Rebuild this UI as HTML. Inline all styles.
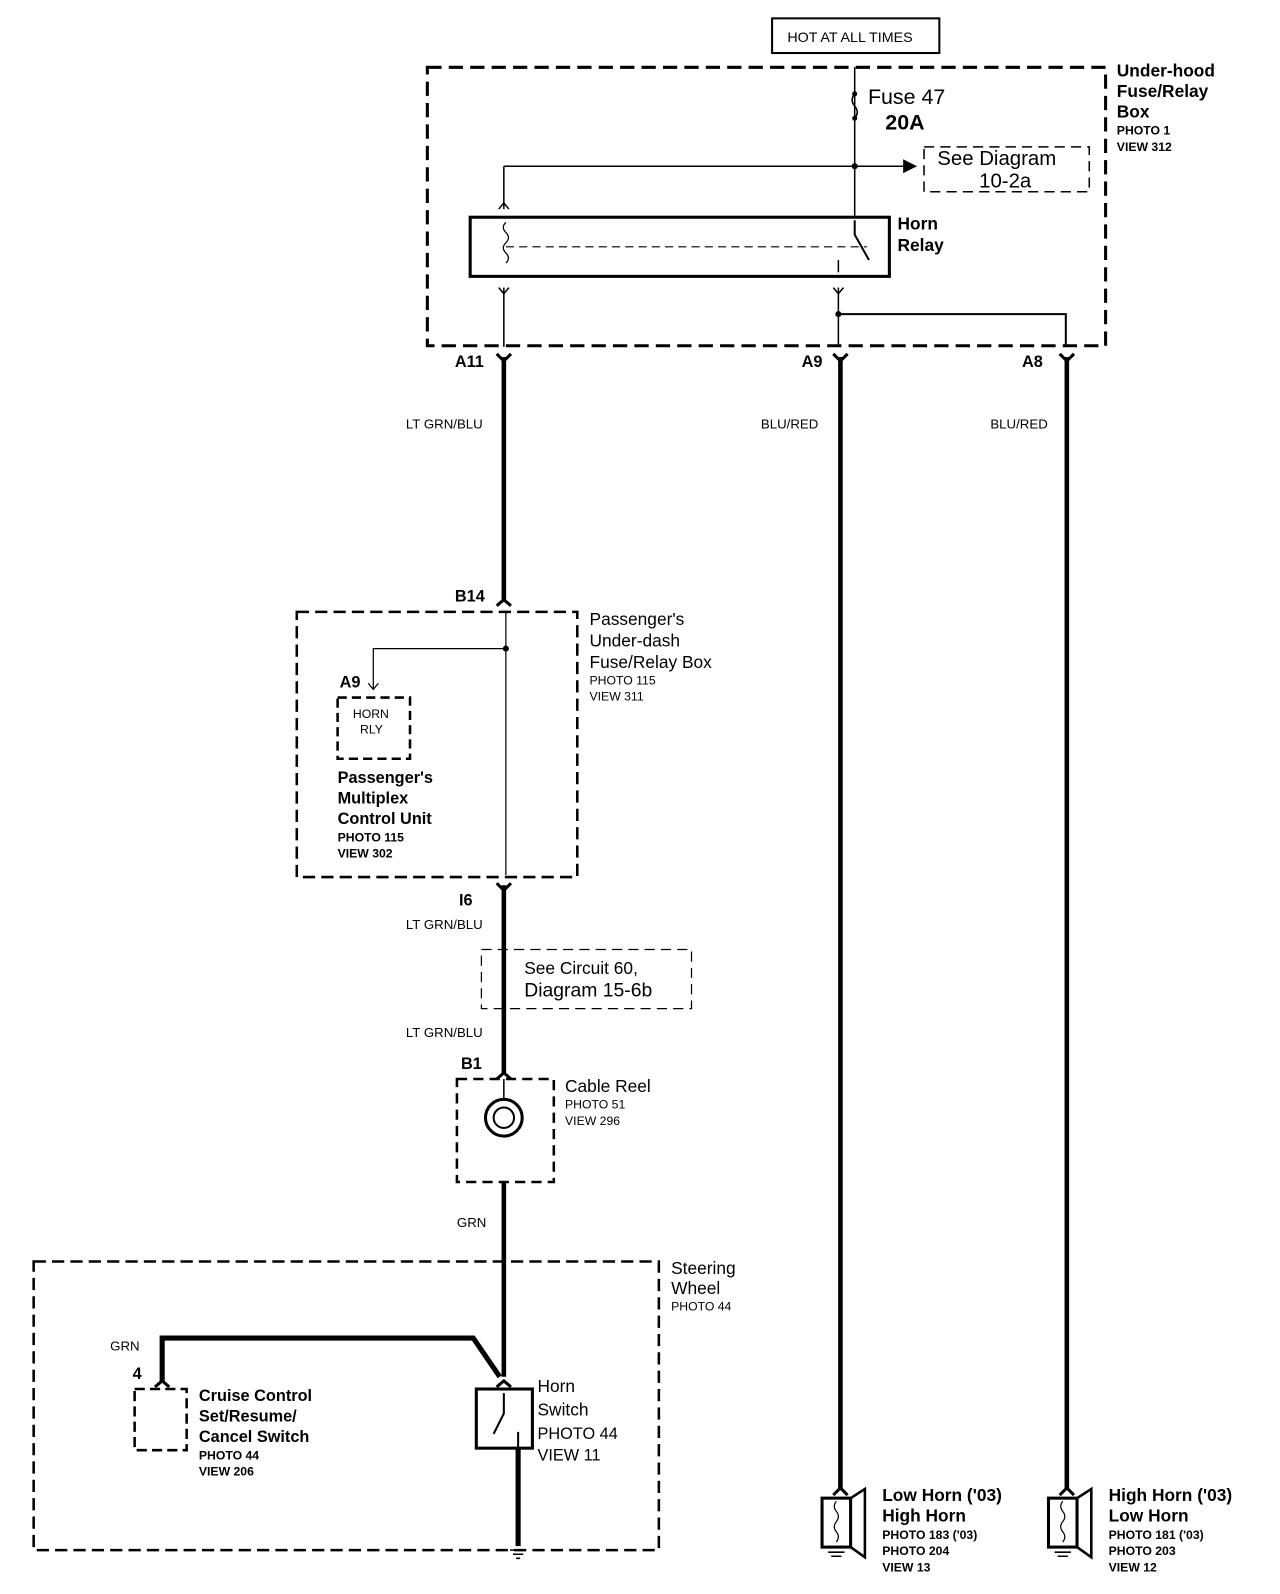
<!DOCTYPE html>
<html><head><meta charset="utf-8"><style>
html,body{margin:0;padding:0;background:#fff;}
svg{display:block;}
text{font-family:"Liberation Sans",Arial,sans-serif;fill:#000;}
.b{font-weight:bold;}
</style></head><body>
<svg width="1280" height="1594" viewBox="0 0 1255 1563" preserveAspectRatio="none" xmlns="http://www.w3.org/2000/svg">
<g fill="none" stroke="#000">
<rect x="757" y="18" width="164" height="34" stroke-width="2"/>
<rect x="419" y="66" width="665" height="273" stroke-width="3" stroke-dasharray="14,7"/>
<line x1="838" y1="66" x2="838" y2="212" stroke-width="1.5"/>
<path d="M838 92 q-5 6 0 12 q5 6 0 12" stroke-width="1.5"/>
<line x1="494" y1="163" x2="895" y2="163" stroke-width="1.5"/>
<line x1="494" y1="163" x2="494" y2="205" stroke-width="1.5"/>
<path d="M489 205 l5 -6 l5 6" stroke-width="1.5"/>
<polygon points="886,157 898,163 886,169" fill="#000"/>
<rect x="906" y="144" width="162" height="44" stroke-width="1.5" stroke-dasharray="10,6"/>
<rect x="461" y="213" width="411" height="58" stroke-width="3"/>
<path d="M496 218 q-5 5 0 10 q5 5 0 10 q-5 5 0 10 q5 5 0 10" stroke-width="1.2"/>
<line x1="496" y1="242" x2="850" y2="242" stroke-width="1.2" stroke-dasharray="8,5"/>
<path d="M838 216 v14 l14 25" stroke-width="2"/>
<path d="M822 255 v12" stroke-width="1.5"/>
<line x1="494" y1="282" x2="494" y2="340" stroke-width="1.5"/>
<path d="M489 282 l5 6 l5 -6" stroke-width="1.5"/>
<line x1="822" y1="282" x2="822" y2="340" stroke-width="1.5"/>
<path d="M817 282 l5 6 l5 -6" stroke-width="1.5"/>
<polyline points="822,308 1045,308 1045,340" stroke-width="2"/>
<line x1="494" y1="350" x2="494" y2="590" stroke-width="4.5"/>
<line x1="824" y1="350" x2="824" y2="1460" stroke-width="4.5"/>
<line x1="1046" y1="350" x2="1046" y2="1460" stroke-width="4.5"/>
<path d="M487 347 l7 7 l7 -7 M817 347 l7 7 l7 -7 M1039 347 l7 7 l7 -7" stroke-width="3"/>
<rect x="291" y="600" width="275" height="260" stroke-width="2.5" stroke-dasharray="12,6"/>
<path d="M487 594 l7 -6 l7 6" stroke-width="3"/>
<line x1="496" y1="600" x2="496" y2="858" stroke-width="1.2"/>
<polyline points="496,636 366,636 366,676" stroke-width="1.2"/>
<path d="M361 670 l5 6 l5 -6" stroke-width="1.2"/>
<rect x="331" y="684" width="71" height="60" stroke-width="2.5" stroke-dasharray="9,5"/>
<line x1="494" y1="868" x2="494" y2="1053" stroke-width="4.5"/>
<path d="M487 866 l7 7 l7 -7" stroke-width="3"/>
<rect x="472" y="931" width="206" height="58" stroke-width="1.2" stroke-dasharray="10,6"/>
<path d="M487 1058 l7 -6 l7 6" stroke-width="3"/>
<rect x="448" y="1058" width="95" height="101" stroke-width="2.5" stroke-dasharray="10,6"/>
<circle cx="494" cy="1096" r="18" stroke-width="3"/>
<circle cx="494" cy="1096" r="10" stroke-width="2"/>
<line x1="494" y1="1058" x2="494" y2="1078" stroke-width="1.5"/>
<line x1="494" y1="1159" x2="494" y2="1350" stroke-width="4.5"/>
<rect x="33" y="1237" width="613" height="283" stroke-width="2.5" stroke-dasharray="12,6"/>
<polyline points="159,1355 159,1312 464,1312 490,1350" stroke-width="5"/>
<path d="M152 1360 l7 -6 l7 6 M487 1360 l7 -6 l7 6" stroke-width="3"/>
<rect x="132" y="1362" width="51" height="60" stroke-width="2.5" stroke-dasharray="10,5"/>
<rect x="467" y="1362" width="55" height="58" stroke-width="3"/>
<path d="M494 1366 v20 l-10 20 M508 1420 v-16" stroke-width="2"/>
<line x1="508" y1="1420" x2="508" y2="1516" stroke-width="5"/>
<path d="M500 1520 h16 M503 1524 h10 M506 1528 h4" stroke-width="1.5"/>
<path d="M817 1466 l7 -7 l7 7 M1039 1466 l7 -7 l7 7" stroke-width="3"/>
<rect x="806" y="1469" width="28" height="48" stroke-width="3"/>
<polygon points="834,1469 848,1460 848,1527 834,1517" stroke-width="2.5"/>
<path d="M820 1472 q-4 5 0 10 q4 5 0 10 q-4 5 0 10 q4 5 0 10" stroke-width="1.2"/>
<path d="M812 1522 h16 M815 1526 h10" stroke-width="1.5"/>
<rect x="1028" y="1469" width="28" height="48" stroke-width="3"/>
<polygon points="1056,1469 1070,1460 1070,1527 1056,1517" stroke-width="2.5"/>
<path d="M1042 1472 q-4 5 0 10 q4 5 0 10 q-4 5 0 10 q4 5 0 10" stroke-width="1.2"/>
<path d="M1034 1522 h16 M1037 1526 h10" stroke-width="1.5"/>
</g>
<g fill="#000">
<circle cx="838" cy="92" r="2.5"/><circle cx="838" cy="116" r="2.5"/><circle cx="838" cy="163" r="3"/>
<circle cx="822" cy="308" r="3"/><circle cx="496" cy="636" r="3"/>
</g>
<text x="772" y="41" font-size="14">HOT AT ALL TIMES</text>
<text x="851" y="102" font-size="21">Fuse 47</text>
<text x="868" y="127" font-size="21" class="b">20A</text>
<text x="919" y="162" font-size="20">See Diagram</text>
<text x="960" y="184" font-size="20">10-2a</text>
<text x="880" y="225" font-size="17" class="b">Horn</text>
<text x="880" y="246" font-size="17" class="b">Relay</text>
<g font-size="17"><text x="1095" y="75" class="b">Under-hood</text><text x="1095" y="95" class="b">Fuse/Relay</text><text x="1095" y="115" class="b">Box</text></g>
<text x="1095" y="132" font-size="12" class="b">PHOTO 1</text><text x="1095" y="148" font-size="12" class="b">VIEW 312</text>
<text x="446" y="360" font-size="16" class="b">A11</text>
<text x="786" y="360" font-size="16" class="b">A9</text>
<text x="1002" y="360" font-size="16" class="b">A8</text>
<text x="398" y="420" font-size="13">LT GRN/BLU</text>
<text x="746" y="420" font-size="13">BLU/RED</text>
<text x="971" y="420" font-size="13">BLU/RED</text>
<text x="446" y="590" font-size="16" class="b">B14</text>
<text x="578" y="613" font-size="17">Passenger's</text><text x="578" y="634" font-size="17">Under-dash</text><text x="578" y="655" font-size="17">Fuse/Relay Box</text>
<text x="578" y="671" font-size="12">PHOTO 115</text><text x="578" y="687" font-size="12">VIEW 311</text>
<text x="333" y="674" font-size="16" class="b">A9</text>
<text x="346" y="704" font-size="12">HORN</text><text x="353" y="719" font-size="12">RLY</text>
<text x="331" y="768" font-size="16" class="b">Passenger's</text><text x="331" y="788" font-size="16" class="b">Multiplex</text><text x="331" y="808" font-size="16" class="b">Control Unit</text>
<text x="331" y="825" font-size="12" class="b">PHOTO 115</text><text x="331" y="841" font-size="12" class="b">VIEW 302</text>
<text x="450" y="888" font-size="16" class="b">I6</text>
<text x="398" y="911" font-size="13">LT GRN/BLU</text>
<text x="514" y="955" font-size="17">See Circuit 60,</text>
<text x="514" y="977" font-size="19">Diagram  15-6b</text>
<text x="398" y="1017" font-size="13">LT GRN/BLU</text>
<text x="452" y="1048" font-size="16" class="b">B1</text>
<text x="554" y="1071" font-size="17">Cable Reel</text>
<text x="554" y="1087" font-size="12">PHOTO 51</text><text x="554" y="1103" font-size="12">VIEW 296</text>
<text x="448" y="1203" font-size="13">GRN</text>
<text x="658" y="1249" font-size="17">Steering</text><text x="658" y="1269" font-size="17">Wheel</text>
<text x="658" y="1285" font-size="12">PHOTO 44</text>
<text x="108" y="1324" font-size="13">GRN</text>
<text x="130" y="1352" font-size="16" class="b">4</text>
<text x="195" y="1374" font-size="16" class="b">Cruise Control</text><text x="195" y="1394" font-size="16" class="b">Set/Resume/</text><text x="195" y="1414" font-size="16" class="b">Cancel Switch</text>
<text x="195" y="1431" font-size="12" class="b">PHOTO 44</text><text x="195" y="1447" font-size="12" class="b">VIEW 206</text>
<text x="527" y="1365" font-size="17">Horn</text><text x="527" y="1388" font-size="17">Switch</text>
<text x="527" y="1411" font-size="16">PHOTO 44</text><text x="527" y="1432" font-size="16">VIEW 11</text>
<text x="865" y="1472" font-size="17" class="b">Low Horn ('03)</text><text x="865" y="1492" font-size="17" class="b">High Horn</text>
<text x="865" y="1509" font-size="12" class="b">PHOTO 183 ('03)</text><text x="865" y="1525" font-size="12" class="b">PHOTO 204</text><text x="865" y="1541" font-size="12" class="b">VIEW 13</text>
<text x="1087" y="1472" font-size="17" class="b">High Horn ('03)</text><text x="1087" y="1492" font-size="17" class="b">Low Horn</text>
<text x="1087" y="1509" font-size="12" class="b">PHOTO 181 ('03)</text><text x="1087" y="1525" font-size="12" class="b">PHOTO 203</text><text x="1087" y="1541" font-size="12" class="b">VIEW 12</text>
</svg>
</body></html>
